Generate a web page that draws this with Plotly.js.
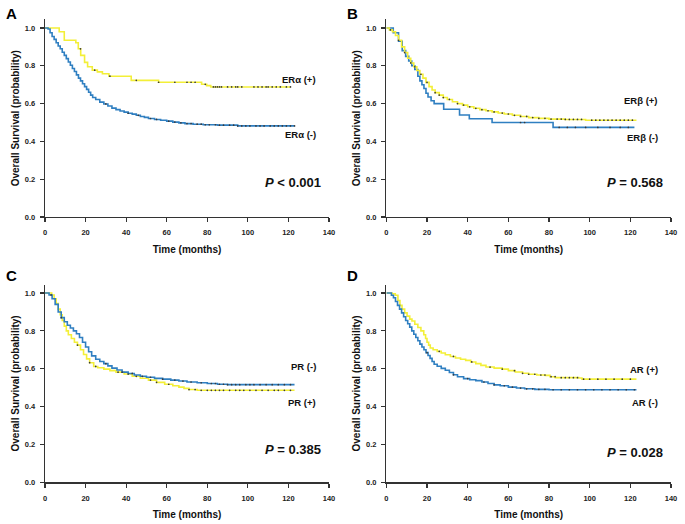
<!DOCTYPE html>
<html><head><meta charset="utf-8">
<script src="https://cdn.plot.ly/plotly-3.0.1.min.js"></script>
<style>html,body{margin:0;padding:0;background:#fff}#chart{width:685px;height:524px}</style>
</head><body><div id="chart"></div><script>
// Panel A: ERα
const aPosT = [0, 7, 9.5, 15.2, 16.4, 17.6, 19.5, 21, 23.3, 25.8, 28.3, 31.5, 42.5, 56, 77.2, 79.7, 81.7, 121.2];
const aPosS = [1.0, 0.98, 0.935, 0.922, 0.89, 0.855, 0.818, 0.795, 0.777, 0.768, 0.758, 0.745, 0.723, 0.713, 0.702, 0.695, 0.688, 0.688];
const aPosCens = [17.5, 24.5, 32, 45, 56, 64, 70, 72, 74, 79, 83, 84, 85, 86, 87, 90, 92, 94, 95, 97, 103, 105, 107, 109, 110, 112, 114, 116, 119, 121];
const aNegT = [0,1.5,2.5,3.5,4.5,5.5,6.5,7.5,8.5,9.5,10.5,11.5,12.5,13.5,14.5,15.5,16.5,17.5,18.5,19.5,20.5,21.5,22.5,23.5,25,27,29,31,33,35,37,39,41,43,45,47,49,51,54,57,60,63,66,69,73,78,85,95,123];
const aNegS = [1.0,0.995,0.975,0.955,0.94,0.922,0.905,0.89,0.872,0.855,0.838,0.82,0.803,0.786,0.77,0.752,0.735,0.72,0.705,0.69,0.675,0.66,0.645,0.632,0.622,0.608,0.598,0.587,0.576,0.568,0.561,0.555,0.549,0.544,0.538,0.532,0.527,0.521,0.516,0.512,0.507,0.502,0.498,0.494,0.491,0.488,0.486,0.482,0.482];
const aNegCens = [30, 41, 46, 52, 55, 61, 64, 67, 70, 72, 75, 77, 79, 81, 84, 86, 88, 91, 93, 95, 97, 99, 101, 104, 106, 108, 111, 113, 115, 117, 119, 121, 123];

// Panel B: ERβ
const bPosT = [0,1.5,3,4.5,6,7.5,9,10.5,12,13.5,15,16.5,18,19.5,21,22.5,24,26,28,30,32.5,35,37.5,40,43,46,49,52,55,58,62,66,70,75,80,88,98,123];
const bPosS = [1.0,0.99,0.98,0.96,0.935,0.9,0.87,0.84,0.815,0.795,0.775,0.755,0.735,0.712,0.69,0.672,0.658,0.645,0.632,0.622,0.61,0.6,0.592,0.583,0.575,0.568,0.562,0.556,0.55,0.545,0.538,0.532,0.526,0.522,0.518,0.516,0.512,0.512];
const bPosCens = [2, 6, 9, 12, 14, 17, 20, 24, 26, 28, 31, 35, 38, 41, 44, 47, 50, 53, 57, 60, 63, 66, 69, 72, 75, 78, 81, 84, 86, 88, 90, 92, 94, 96, 101, 103, 105, 107, 109, 111, 113, 115, 117, 119, 121];
const bNegT = [0,3.4,6,7.8,9.5,11,12.5,14,15.5,16.5,17.5,18.5,19.5,20.5,22,23.5,28.2,36,40.8,52,82,122];
const bNegS = [1.0,0.975,0.93,0.88,0.85,0.825,0.8,0.78,0.745,0.72,0.7,0.68,0.655,0.635,0.615,0.6,0.57,0.54,0.52,0.5,0.474,0.474];
const bNegCens = [66, 68, 85, 89, 93, 98, 104, 110, 115, 119];

// Panel C: PR
const cNegT = [0,2,3.5,5,6.5,8,9.5,11,12.5,14,15.5,17,18.5,20,21.5,23,25,27,29,31,33,35.5,38,41,44,47,50,54,58,62,66,70,75,80,85,90,123];
const cNegS = [1.0,0.99,0.97,0.94,0.9,0.87,0.848,0.83,0.815,0.8,0.785,0.765,0.74,0.715,0.69,0.668,0.65,0.638,0.627,0.615,0.603,0.593,0.582,0.575,0.567,0.56,0.555,0.549,0.545,0.54,0.535,0.53,0.526,0.522,0.518,0.516,0.516];
const cNegCens = [3, 8, 30, 38, 43, 48, 52, 58, 64, 68, 72, 77, 82, 84, 86, 88, 90, 92, 94, 96, 99, 101, 103, 106, 109, 112, 115, 118, 121];
const cPosT = [0,3.3,4.5,5.5,6.5,7.5,8.5,9.5,10.5,11.5,13,14.5,16,17.5,19,20.5,22,24,26,29,32,35,39,43,47,51,55,59,63,66,68.5,71,75,123];
const cPosS = [1.0,0.99,0.97,0.945,0.915,0.885,0.855,0.825,0.8,0.78,0.76,0.74,0.725,0.7,0.675,0.652,0.632,0.612,0.605,0.598,0.59,0.582,0.572,0.56,0.55,0.54,0.528,0.518,0.51,0.503,0.496,0.49,0.486,0.486];
const cPosCens = [16, 22, 25, 36, 41, 45, 52, 55, 61, 71, 74, 77, 80, 82, 84, 86, 88, 91, 94, 96, 98, 101, 104, 107, 110, 113, 115, 118, 121];

// Panel D: AR
const dPosT = [0,2.8,4.4,5.7,6.7,7.7,9,10.2,11.5,12.6,14,15.5,17,18.4,19.3,20,20.8,21.6,23,25,27,29,31.5,34,36.5,39,41.5,44,46.5,49,53,57,60,63.4,67,70,74,78.2,80.5,83.1,94.6,96.2,123];
const dPosS = [1.0,0.996,0.988,0.961,0.935,0.915,0.895,0.878,0.862,0.852,0.835,0.818,0.8,0.78,0.76,0.74,0.725,0.71,0.7,0.692,0.683,0.674,0.665,0.657,0.65,0.644,0.636,0.627,0.618,0.609,0.603,0.598,0.59,0.583,0.576,0.571,0.567,0.565,0.558,0.553,0.551,0.545,0.545];
const dPosCens = [26, 33, 42, 51, 57, 63, 67, 70, 73, 76, 78, 81, 83, 86, 88, 90, 92, 94, 97, 100, 104, 108, 112, 116, 120];
const dNegT = [0,2.5,3.5,4.5,5.5,6.5,7.5,8.5,9.5,10.5,11.5,12.5,13.5,14.5,15.5,16.5,17.5,18.5,19.5,20.5,21.5,22.5,23.5,25,27,29,31,33,35,38,41,44,47,50,53,56,60,64,68,73,80,123];
const dNegS = [1.0,0.988,0.975,0.955,0.935,0.915,0.895,0.875,0.855,0.838,0.82,0.8,0.782,0.765,0.748,0.73,0.715,0.7,0.685,0.67,0.655,0.638,0.624,0.613,0.602,0.592,0.58,0.568,0.558,0.548,0.542,0.537,0.53,0.522,0.515,0.51,0.503,0.498,0.494,0.491,0.489,0.489];
const dNegCens = [20, 33, 40, 48, 53, 58, 62, 66, 69, 72, 75, 78, 82, 86, 90, 94, 98, 102, 106, 110, 114, 118, 122];

const panelLetters = ['A', 'B', 'C', 'D'];
const pTexts = ['<i>P</i> < 0.001', '<i>P</i> = 0.568', '<i>P</i> = 0.385', '<i>P</i> = 0.028'];
const xTicks = [0, 20, 40, 60, 80, 100, 120, 140];
const yTicks = [0.0, 0.2, 0.4, 0.6, 0.8, 1.0];

const YELLOW = '#f3ef38';
const BLUE = '#2f7fc1';
const FONT = 'Liberation Sans, Arial, sans-serif';

function stepAt(ts, ss, t) {
  let v = ss[0];
  for (let i = 0; i < ts.length; i++) { if (ts[i] <= t) v = ss[i]; }
  return v;
}

const panels = [
  {ax: '', curves: [[aPosT, aPosS, aPosCens, YELLOW], [aNegT, aNegS, aNegCens, BLUE]],
   labels: [['ERα (+)', 0.725], ['ERα (-)', 0.434]], pY: 0.185},
  {ax: '2', curves: [[bNegT, bNegS, bNegCens, BLUE], [bPosT, bPosS, bPosCens, YELLOW]],
   labels: [['ERβ (+)', 0.619], ['ERβ (-)', 0.423]], pY: 0.185},
  {ax: '3', curves: [[cPosT, cPosS, cPosCens, YELLOW], [cNegT, cNegS, cNegCens, BLUE]],
   labels: [['PR (-)', 0.614], ['PR (+)', 0.42]], pY: 0.171},
  {ax: '4', curves: [[dPosT, dPosS, dPosCens, YELLOW], [dNegT, dNegS, dNegCens, BLUE]],
   labels: [['AR (+)', 0.598], ['AR (-)', 0.424]], pY: 0.16}
];

const traces = [];
const annotations = [];
panels.forEach((p, i) => {
  const xa = 'x' + p.ax, ya = 'y' + p.ax;
  p.curves.forEach(c => {
    traces.push({x: c[0], y: c[1], xaxis: xa, yaxis: ya, type: 'scatter', mode: 'lines',
      line: {color: c[3], width: 1.6, shape: 'hv'}, hoverinfo: 'skip', showlegend: false});
  });
  p.curves.forEach(c => {
    traces.push({x: c[2], y: c[2].map(t => stepAt(c[0], c[1], t)), xaxis: xa, yaxis: ya,
      type: 'scatter', mode: 'markers',
      marker: {symbol: 'circle', size: 1.7, color: '#3a3a3a'}, hoverinfo: 'skip', showlegend: false});
  });
  p.labels.forEach(l => {
    annotations.push({text: l[0], xref: xa, yref: ya, x: 134.5, y: l[1], xanchor: 'right', yanchor: 'middle',
      showarrow: false, font: {family: FONT, size: 9.5, color: '#111', weight: 'bold'}});
  });
  annotations.push({text: pTexts[i], xref: xa, yref: ya, x: 137, y: p.pY, xanchor: 'right', yanchor: 'middle',
    showarrow: false, font: {family: FONT, size: 13, color: '#111', weight: 'bold'}});
});

const xDom = [[0.0657, 0.4803], [0.564, 0.9796]];
const yDom = [[0.5859, 0.9628], [0.0796, 0.457]];
const letterPos = [[11, 13], [352, 13], [11, 275], [352, 275]];
letterPos.forEach((lp, i) => {
  annotations.push({text: panelLetters[i], xref: 'paper', yref: 'paper', x: lp[0] / 685, y: 1 - lp[1] / 524,
    xanchor: 'center', yanchor: 'middle', showarrow: false,
    font: {family: FONT, size: 15, color: '#000', weight: 'bold'}});
});

function xAxis(dom, anchor) {
  return {domain: dom, anchor: anchor, range: [0, 140], tickvals: xTicks, ticktext: xTicks.map(String),
    showline: true, linecolor: '#333', linewidth: 1.3, ticks: 'outside', ticklen: 4, tickwidth: 1.2, tickcolor: '#333',
    showgrid: false, zeroline: false, fixedrange: true, ticklabelstandoff: 4,
    tickfont: {family: FONT, size: 7.5, color: '#222', weight: 'bold'},
    title: {text: 'Time (months)', standoff: 9, font: {family: FONT, size: 10, color: '#111', weight: 'bold'}}};
}
function yAxis(dom, anchor) {
  return {domain: dom, anchor: anchor, range: [0, 1.045], tickvals: yTicks, ticktext: yTicks.map(v => v.toFixed(1)),
    showline: true, linecolor: '#333', linewidth: 1.3, ticks: 'outside', ticklen: 4, tickwidth: 1.2, tickcolor: '#333',
    showgrid: false, zeroline: false, fixedrange: true, ticklabelstandoff: 3,
    tickfont: {family: FONT, size: 7.5, color: '#222', weight: 'bold'},
    title: {text: 'Overall Survival (probability)', standoff: 3, font: {family: FONT, size: 10, color: '#111', weight: 'bold'}}};
}

const layout = {
  width: 685, height: 524, margin: {l: 0, r: 0, t: 0, b: 0},
  paper_bgcolor: '#fff', plot_bgcolor: '#fff', showlegend: false,
  xaxis: xAxis(xDom[0], 'y'), yaxis: yAxis(yDom[0], 'x'),
  xaxis2: xAxis(xDom[1], 'y2'), yaxis2: yAxis(yDom[0], 'x2'),
  xaxis3: xAxis(xDom[0], 'y3'), yaxis3: yAxis(yDom[1], 'x3'),
  xaxis4: xAxis(xDom[1], 'y4'), yaxis4: yAxis(yDom[1], 'x4'),
  annotations: annotations
};

Plotly.newPlot('chart', traces, layout, {displayModeBar: false, staticPlot: true});
</script></body></html>
